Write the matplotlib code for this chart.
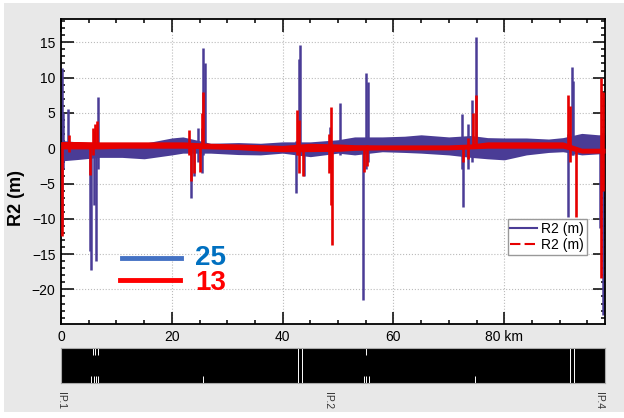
import matplotlib
matplotlib.use("Agg")
import matplotlib.pyplot as plt
import numpy as np
from matplotlib.lines import Line2D
from matplotlib.patches import Rectangle

plt.rcParams['font.family'] = ['Liberation Sans', 'DejaVu Sans']

# envelope of the dense blue (25) band, km / m
band_km = [0, 3, 7, 11, 15, 20, 22, 27, 32, 36, 40, 45, 50, 53, 58, 62, 65, 70, 74, 77, 80, 84, 88, 90.6, 94, 97, 98.2]
blue_hi = [1.1, 0.9, 0.7, 0.8, 0.7, 1.45, 1.6, 0.7, 0.8, 0.7, 0.9, 0.9, 1.2, 1.6, 1.6, 1.7, 1.9, 1.6, 1.8, 1.5, 1.45, 1.45, 1.3, 1.5, 2.1, 1.9, 1.9]
blue_lo = [-1.8, -1.6, -1.3, -1.3, -1.5, -0.95, -0.7, -0.7, -0.9, -0.95, -0.7, -1.2, -0.7, -0.95, -0.5, -0.6, -0.7, -0.95, -1.3, -1.5, -1.65, -0.95, -0.6, -0.5, -0.95, -0.8, -0.8]

# envelope of the red (13) band
red_hi = [0.95, 0.95, 0.9, 0.9, 0.9, 0.9, 0.9, 0.7, 0.6, 0.5, 0.4, 0.7, 0.6, 0.5, 0.47, 0.47, 0.47, 0.47, 0.6, 0.9, 0.9, 0.9, 0.9, 0.9, 0.0, 0.0, 0.0]
red_lo = [-0.1, -0.1, -0.1, 0.0, 0.0, 0.0, 0.0, -0.1, -0.2, -0.4, -0.5, -0.48, -0.45, -0.3, -0.24, -0.24, -0.24, -0.24, -0.1, 0.0, 0.0, 0.0, 0.0, 0.0, -0.7, -0.7, -0.7]

# spikes (km, min, max)
blue_sp_km = [0.1, 0.3, 1.2, 5.2, 5.5, 5.9, 6.3, 6.6, 23.4, 24.0, 24.8, 25.4, 25.6, 26.0,
              42.5, 43.0, 43.2, 43.8, 48.6, 50.4, 54.6, 55.1, 55.5,
              72.3, 72.6, 73.5, 74.1, 74.9, 91.6, 92.2, 92.5, 97.3, 97.8]
blue_sp_lo = [-11.0, -3.0, -1.5, -14.5, -17.2, -8.0, -16.0, -3.0, -7.1, -4.0, -2.0, -3.5, -1.0, -0.5,
              -6.4, -1.0, -1.0, -4.0, -3.0, -1.0, -21.5, -3.0, -2.0,
              -3.0, -8.3, -3.0, -2.0, -0.5, -9.7, -1.0, -1.0, -11.3, -23.6]
blue_sp_hi = [11.3, 5.0, 5.6, 0.5, 0.5, 2.5, 0.5, 7.2, 1.0, 0.5, 2.9, 2.8, 14.2, 12.0,
              1.0, 12.6, 14.6, 0.0, 3.0, 6.4, 1.0, 10.6, 9.4,
              4.9, 1.0, 3.5, 6.8, 15.8, 2.0, 11.5, 9.5, 1.0, 2.0]

red_sp_km = [0.1, 1.5, 5.2, 5.8, 6.2, 6.5, 23.1, 23.5, 24.0, 25.1, 25.5, 25.7,
             42.6, 42.9, 43.7, 48.4, 48.8, 49.0, 54.7, 55.2,
             72.5, 73.5, 74.4, 74.9, 91.6, 91.9, 92.9, 97.5, 97.8]
red_sp_lo = [-12.5, -0.5, -3.8, -1.0, 0.0, 0.5, -1.0, -4.7, -3.5, -3.3, 0.0, 0.0,
             -1.0, -3.5, -4.0, -3.5, -8.0, -13.7, -3.3, -2.5,
             -1.9, -1.5, 0.0, 0.0, 0.5, -2.0, -9.7, -18.4, -6.0]
red_sp_hi = [0.9, 1.9, 0.5, 2.8, 3.5, 3.8, 2.6, 0.5, 0.5, 0.5, 5.0, 8.0,
             5.4, 4.0, 0.0, 2.0, 5.9, 0.5, 0.0, 0.5,
             0.5, 1.5, 5.0, 7.5, 7.6, 6.0, 0.0, 9.9, 8.0]

# element markers in the lattice strip (km)
mark_full = [42.8, 43.5, 91.8, 92.6]
mark_top = [5.8, 6.2, 6.6, 55.1]
mark_bot = [5.5, 5.9, 6.3, 6.6, 25.6, 54.7, 55.1, 55.6, 74.7]
ip_km = [0.0, 48.2, 97.2]
ip_names = ['IP.1', 'IP.2', 'IP.4']

blue = '#4a3c96'
red = '#e60000'

fig = plt.figure(figsize=(6.24, 4.18), dpi=100)
fig.patch.set_facecolor('white')
fig.patches.append(Rectangle((4 / 624, 0.015), 1, 0.978, transform=fig.transFigure,
                             facecolor='#e8e8e8', edgecolor='none', zorder=-10))

ax = fig.add_axes([0.0978, 0.2249, 0.8718, 0.7296])
ax.fill_between(band_km, blue_lo, blue_hi, color=blue, lw=0, zorder=2)
ax.vlines(blue_sp_km, blue_sp_lo, blue_sp_hi, color=blue, lw=1.8, zorder=2)
ax.fill_between(band_km, red_lo, red_hi, color=red, lw=0, zorder=3)
ax.vlines(red_sp_km, red_sp_lo, red_sp_hi, color=red, lw=1.9, zorder=3)

ax.set_xlim(0, 98.2)
ax.set_ylim(-24.9, 18.3)
ax.set_xticks([0, 20, 40, 60, 80])
ax.set_xticklabels(['0', '20', '40', '60', '80 km'])
ax.set_xticks(np.arange(0, 98, 5), minor=True)
ax.set_yticks([-20, -15, -10, -5, 0, 5, 10, 15])
ax.set_yticks(np.arange(-24, 19, 1), minor=True)
ax.tick_params(which='both', direction='in', top=True, right=True, labelsize=10, width=1.1)
ax.tick_params(which='major', length=9, pad=4)
ax.tick_params(which='minor', length=3)
for s in ax.spines.values():
    s.set_linewidth(1.3)
ax.grid(True, which='major', linestyle=':', color='#bbbbbb', lw=0.8)
ax.set_axisbelow(True)
ax.set_ylabel('R2 (m)', fontsize=13, fontweight='bold')
ax.yaxis.set_label_coords(-0.066, 0.413)

handles = [Line2D([], [], color=blue, lw=1.5),
           Line2D([], [], color=red, lw=1.5, ls=(0, (5, 2)))]
leg = ax.legend(handles, ['R2 (m)', 'R2 (m)'], loc='upper right', bbox_to_anchor=(0.966, 0.343),
                borderaxespad=0, fontsize=10, fancybox=False, framealpha=1,
                handlelength=1.9, borderpad=0.2, labelspacing=0.15, handletextpad=0.3)
leg.get_frame().set_edgecolor('#999999')

ax.plot([0.112, 0.221], [0.217, 0.217], transform=ax.transAxes, color='#4472c4', lw=3.5, zorder=5)
ax.plot([0.108, 0.219], [0.143, 0.143], transform=ax.transAxes, color='#ff0000', lw=3.5, zorder=5)
ax.text(0.246, 0.217, '25', transform=ax.transAxes, color='#0070c0', fontsize=20,
        fontweight='bold', va='center', zorder=5)
ax.text(0.246, 0.135, '13', transform=ax.transAxes, color='#ff0000', fontsize=20,
        fontweight='bold', va='center', zorder=5)

# lattice strip
ax2 = fig.add_axes([0.0978, 0.0837, 0.8718, 0.0838])
ax2.set_facecolor('black')
ax2.set_xlim(0, 98.2)
ax2.set_ylim(0, 1)
ax2.vlines(mark_full, 0, 1, color='white', lw=0.7)
ax2.vlines(mark_top, 0.8, 1, color='white', lw=0.7)
ax2.vlines(mark_bot, 0, 0.2, color='white', lw=0.7)
ax2.set_xticks([])
ax2.set_yticks([])
for s in ax2.spines.values():
    s.set_color('#aaaaaa')
    s.set_linewidth(0.8)
for k, name in zip(ip_km, ip_names):
    ax2.text(k, -0.25, name, rotation=270, ha='center', va='top', fontsize=7.5,
             color='#333333', clip_on=False)

fig.savefig('out.png', dpi=100)
